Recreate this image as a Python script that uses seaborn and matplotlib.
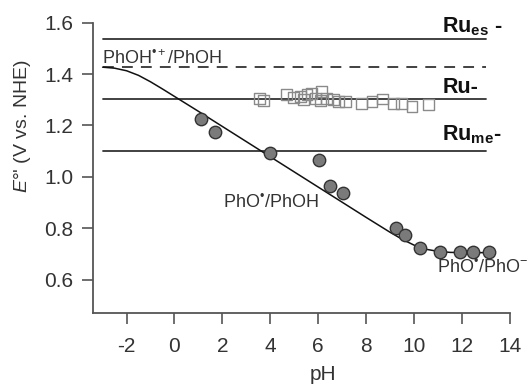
import matplotlib
matplotlib.use('Agg')
import matplotlib.pyplot as plt
import seaborn as sns
import pandas as pd

# fitted curve
curve_ph = [-3, -2.5, -2, -1.5, -1, -0.5, 0, 0.5, 1, 2, 3, 4, 5, 6, 7, 8,
            9, 9.5, 10, 10.5, 11, 11.5, 12, 13]
curve_e = [1.427, 1.423, 1.413, 1.395, 1.370, 1.342, 1.313, 1.284, 1.255,
           1.196, 1.137, 1.078, 1.019, 0.960, 0.901, 0.842, 0.784, 0.757,
           0.734, 0.718, 0.710, 0.706, 0.705, 0.705]

# PhO./PhOH measured points (filled circles)
circ_ph = [1.12, 1.67, 3.97, 6.01, 6.47, 7.03, 9.26, 9.63, 10.23, 11.07, 11.9, 12.46, 13.11]
circ_e = [1.225, 1.174, 1.094, 1.066, 0.966, 0.939, 0.800, 0.774, 0.724, 0.708, 0.708, 0.708, 0.708]

# Ru- points (open squares)
sq_ph = [3.56, 3.72, 4.66, 4.98, 5.25, 5.40, 5.53, 5.71, 5.88, 6.08, 6.15, 6.36,
         6.64, 6.85, 7.13, 7.82, 8.24, 8.66, 9.14, 9.49, 9.91, 10.61]
sq_e = [1.306, 1.297, 1.319, 1.310, 1.312, 1.300, 1.319, 1.325, 1.306, 1.297, 1.331, 1.306,
        1.300, 1.293, 1.293, 1.286, 1.293, 1.303, 1.286, 1.286, 1.273, 1.280]

# reference potentials
ru_es = 1.535
phoh_plus = 1.429
ru_gs = 1.302
ru_me = 1.100
line_ph = [-3, 13]

sns.set_theme(style='ticks')
plt.rcParams['font.family'] = ['Liberation Sans', 'DejaVu Sans']
plt.rcParams['mathtext.fontset'] = 'custom'
plt.rcParams['mathtext.rm'] = 'Liberation Sans'
plt.rcParams['mathtext.it'] = 'Liberation Sans:italic'
plt.rcParams['mathtext.bf'] = 'Liberation Sans:bold'
plt.rcParams['axes.unicode_minus'] = False

fig = plt.figure(figsize=(5.3, 3.87), dpi=100)
ax = fig.add_axes([0.1755, 0.1912, 0.7868, 0.7501])

line_col = '#333333'
for val in [ru_es, ru_gs, ru_me]:
    sns.lineplot(x=line_ph, y=[val, val], color=line_col, lw=1.3, ax=ax)
sns.lineplot(x=line_ph, y=[phoh_plus, phoh_plus], color=line_col, lw=1.3,
             linestyle=(0, (6, 4.5)), ax=ax)

curve = pd.DataFrame({'pH': curve_ph, 'E': curve_e})
sns.lineplot(data=curve, x='pH', y='E', color='#111111', lw=1.1, ax=ax, sort=False)

sns.scatterplot(x=sq_ph, y=sq_e, marker='s', s=62, color='none',
                edgecolor='#8a8a8a', linewidth=1.0, ax=ax, zorder=3)
sns.scatterplot(x=circ_ph, y=circ_e, marker='o', s=80, color='#7a7a7a',
                edgecolor='#333333', linewidth=1.0, ax=ax, zorder=4)

ax.set_xlim(-3.4, 14)
ax.set_ylim(0.47, 1.6)
ax.set_xticks(range(-2, 15, 2))
ax.set_yticks([0.6, 0.8, 1.0, 1.2, 1.4, 1.6])
ax.set_yticklabels(['0.6', '0.8', '1.0', '1.2', '1.4', '1.6'])
ax.tick_params(axis='x', length=8, width=1.2, pad=9, labelsize=15,
               color='#555555', labelcolor='#333333')
ax.tick_params(axis='y', length=8, width=1.2, pad=6, labelsize=15,
               color='#555555', labelcolor='#333333')
for sp in ['top', 'right']:
    ax.spines[sp].set_visible(False)
for sp in ['left', 'bottom']:
    ax.spines[sp].set_color('#555555')
    ax.spines[sp].set_linewidth(1.3)

ax.set_xlabel('pH', fontsize=15, color='#333333')
ax.xaxis.set_label_coords(0.552, -0.18)
ax.set_ylabel("$E$°' (V vs. NHE)", fontsize=14, color='#333333')
ax.yaxis.set_label_coords(-0.145, 0.644)

# labels
txt = dict(fontsize=13, color='#333333', clip_on=False)
ax.text(-3.02, 1.462, "PhOH$^{\u2022+}$/PhOH", ha='left', va='center', **txt)
ax.text(4.04, 0.903, "PhO$^{\u2022}$/PhOH", ha='center', va='center', **txt)
ax.text(10.96, 0.650, "PhO$^{\u2022}$/PhO$^{-}$", ha='left', va='center', **txt)

bold = dict(fontsize=15.5, color='#111111', fontweight='bold', clip_on=False,
            ha='left', va='center')
ax.text(11.18, 1.585, r"$\mathbf{Ru_{es}}$ -", **bold)
ax.text(11.18, 1.349, "Ru-", **bold)
ax.text(11.18, 1.163, r"$\mathbf{Ru_{me}}$-", **bold)

fig.savefig('out.png', dpi=100)
